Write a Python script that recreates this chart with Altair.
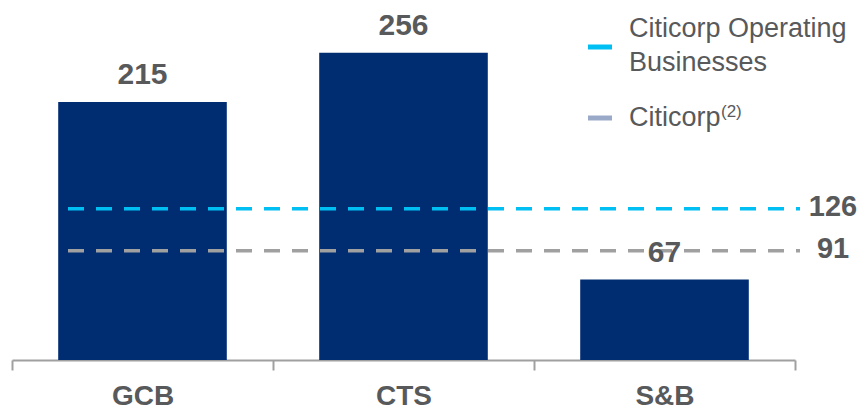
import altair as alt
import pandas as pd

# Segment results
segments = ["GCB", "CTS", "S&B"]
values = [215, 256, 67]

# Reference levels drawn as dashed lines
ref_names = ["Citicorp Operating Businesses", "Citicorp"]
ref_values = [126, 91]
ref_colors = ["#00BFF3", "#A0A0A0"]
legend_colors = ["#00BFF3", "#9AA9C8"]

NAVY = "#002D72"
TEXT = "#58595B"
FONT = "Liberation Sans"

bars_df = pd.DataFrame({"segment": segments, "value": values})
refs_df = pd.DataFrame({"name": ref_names, "value": ref_values, "color": ref_colors})

# Bands touch each other so the axis ticks fall on the band boundaries;
# the bars themselves take a fraction of each band.
x_enc = alt.X(
    "segment:N",
    sort=segments,
    title=None,
    scale=alt.Scale(paddingInner=0, paddingOuter=0),
    axis=alt.Axis(
        labelAngle=0,
        labelFontSize=28,
        labelFontWeight="bold",
        labelColor=TEXT,
        labelFont=FONT,
        labelPadding=12,
        domainColor="#A0A0A0",
        domainWidth=2,
        tickColor="#A0A0A0",
        tickWidth=2,
        tickSize=10,
        tickBand="extent",
    ),
)
y_enc = alt.Y("value:Q", scale=alt.Scale(domain=[0, 300]), axis=None)

base = alt.Chart(bars_df)
bars = base.mark_bar(color=NAVY, width=alt.RelativeBandSize(0.646)).encode(x=x_enc, y=y_enc)
bar_labels = base.mark_text(
    dy=-18, baseline="alphabetic", fontSize=30, fontWeight="bold", color=TEXT, font=FONT
).encode(x=x_enc, y=y_enc, text="value:Q")

refs = alt.Chart(refs_df)
ref_lines = refs.mark_rule(strokeDash=[16, 12], strokeWidth=3.5).encode(
    x=alt.value(56),
    x2=alt.value(788),
    y=y_enc,
    color=alt.Color("name:N", scale=alt.Scale(domain=ref_names, range=ref_colors), legend=None),
)
ref_labels = refs.mark_text(
    align="center", baseline="middle", dy=-2, fontSize=29, fontWeight="bold", color=TEXT, font=FONT
).encode(x=alt.value(821), y=y_enc, text="value:Q")

# Hand-built legend in the upper right corner
legend_df = pd.DataFrame({"name": ref_names, "color": legend_colors})
leg_op = alt.Chart(legend_df[legend_df.name == ref_names[0]])
leg_cc = alt.Chart(legend_df[legend_df.name == ref_names[1]])

leg_op_line = leg_op.mark_rule(strokeWidth=5, color=legend_colors[0]).encode(
    x=alt.value(576), x2=alt.value(600), y=alt.value(47)
)
leg_op_text = leg_op.mark_text(
    align="left", baseline="alphabetic", fontSize=27, color=TEXT, font=FONT,
    lineBreak="\n", lineHeight=34,
).encode(x=alt.value(617), y=alt.value(37), text=alt.value("Citicorp Operating\nBusinesses"))

leg_cc_line = leg_cc.mark_rule(strokeWidth=5, color=legend_colors[1]).encode(
    x=alt.value(576), x2=alt.value(600), y=alt.value(118)
)
leg_cc_text = leg_cc.mark_text(
    align="left", baseline="alphabetic", fontSize=27, color=TEXT, font=FONT
).encode(x=alt.value(617), y=alt.value(126), text=alt.value("Citicorp"))
leg_cc_sup = leg_cc.mark_text(
    align="left", baseline="alphabetic", fontSize=17, color=TEXT, font=FONT
).encode(x=alt.value(709), y=alt.value(117), text=alt.value("(2)"))

chart = (
    alt.layer(
        bars, ref_lines, bar_labels, ref_labels,
        leg_op_line, leg_op_text, leg_cc_line, leg_cc_text, leg_cc_sup,
    )
    .properties(
        width=783,
        height=360,
        padding={"left": 12, "top": 0, "right": 67, "bottom": 50},
        autosize=alt.AutoSizeParams(type="none"),
        background="white",
    )
    .configure_view(stroke=None)
)

chart.save("out.html", embed_options={"renderer": "svg", "actions": False})
